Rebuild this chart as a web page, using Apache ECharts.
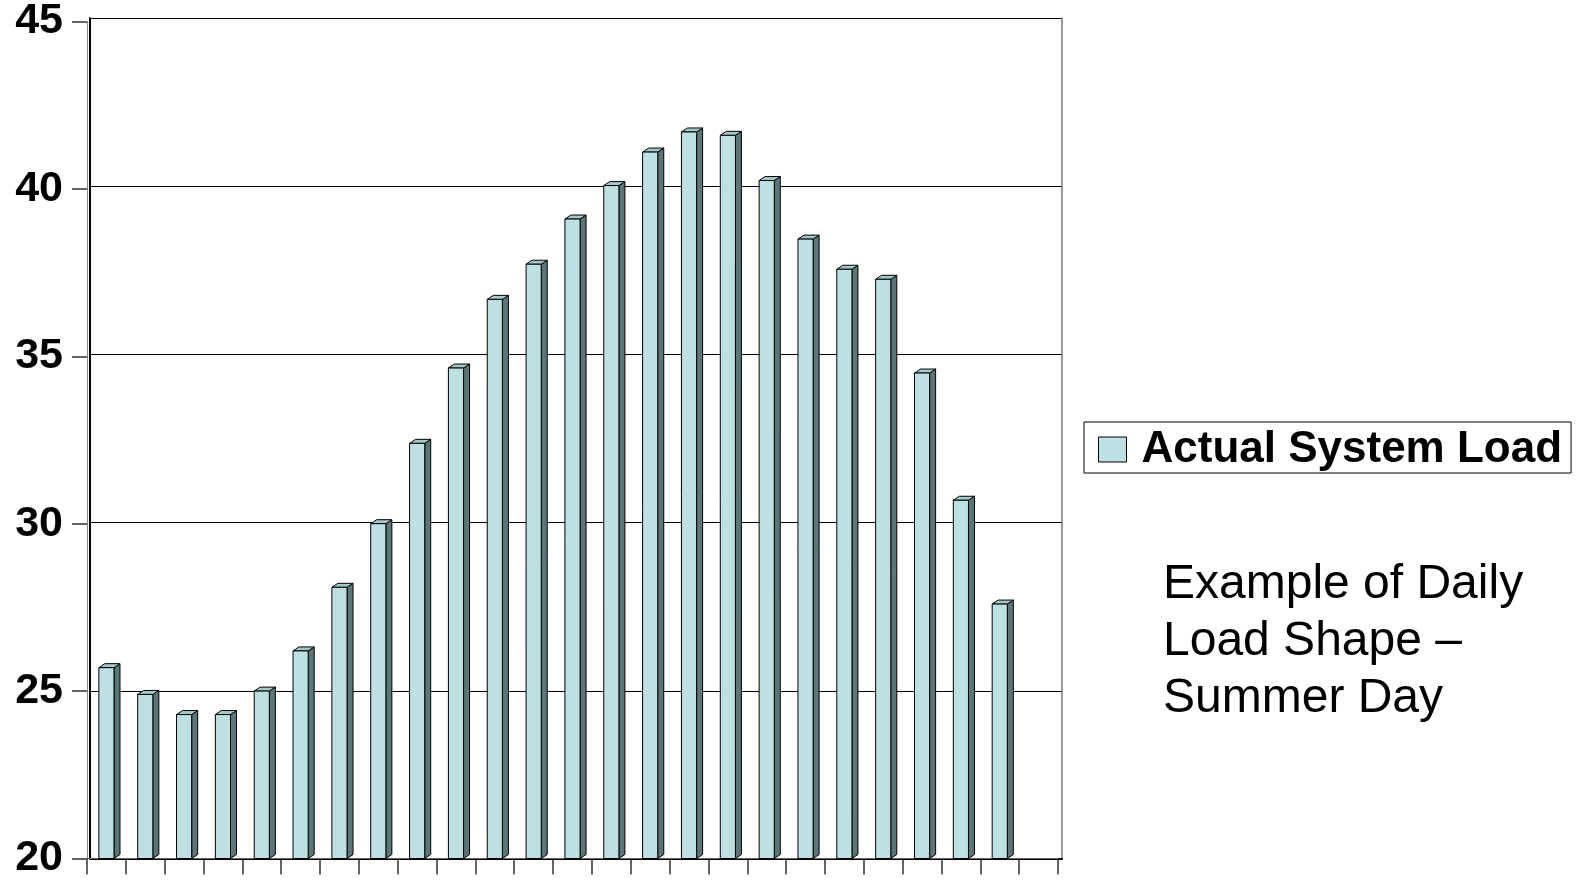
<!DOCTYPE html>
<html>
<head>
<meta charset="utf-8">
<script src="https://cdn.jsdelivr.net/npm/echarts@6/dist/echarts.min.js"></script>
<style>
html,body{margin:0;padding:0;background:#fff;}
#c{width:1583px;height:880px;}
</style>
</head>
<body>
<div id="c"></div>
<script>
const hours = ['1','2','3','4','5','6','7','8','9','10','11','12','13','14','15','16','17','18','19','20','21','22','23','24','25'];
const loadValues = [25.7, 24.9, 24.3, 24.3, 25.0, 26.2, 28.1, 30.0, 32.4, 34.65, 36.7, 37.75, 39.1, 40.1, 41.1, 41.7, 41.6, 40.25, 38.5, 37.6, 37.3, 34.5, 30.7, 27.6];
const yTicks = [20, 25, 30, 35, 40, 45];
const seriesName = 'Actual System Load';
const noteLines = ['Example of Daily', 'Load Shape \u2013', 'Summer Day'];

const FONT = '"Liberation Sans", Arial, sans-serif';
const FRONT = '#BDE0E3', SIDE = '#5B7676', TOP = '#A3C8CA';

const chart = echarts.init(document.getElementById('c'), null, {renderer: 'canvas'});

function renderBar(params, api) {
  const cat = api.value(0), val = api.value(1);
  const top = api.coord([cat, val]);
  const base = api.coord([cat, yTicks[0]]);
  const band = api.size([1, 0])[0];
  const w = band * 0.39, dx = 6, dy = 4;
  const l = top[0] - w / 2, r = top[0] + w / 2;
  const lineStyle = {stroke: '#000', lineWidth: 1};
  return {
    type: 'group',
    children: [
      {type: 'polygon', shape: {points: [[r, top[1]], [r + dx, top[1] - dy], [r + dx, base[1] - dy], [r, base[1]]]},
       style: Object.assign({fill: SIDE}, lineStyle)},
      {type: 'polygon', shape: {points: [[l, top[1]], [l + dx, top[1] - dy], [r + dx, top[1] - dy], [r, top[1]]]},
       style: Object.assign({fill: TOP}, lineStyle)},
      {type: 'rect', shape: {x: l, y: top[1], width: w, height: base[1] - top[1]},
       style: Object.assign({fill: FRONT}, lineStyle)}
    ]
  };
}

const option = {
  backgroundColor: '#fff',
  animation: false,
  grid: [
    {left: 90, right: 521, top: 18, bottom: 21},
    {left: 87, right: 525, top: 21, bottom: 18}
  ],
  xAxis: [
    {gridIndex: 0, type: 'category', data: hours, axisLine: {lineStyle: {color: '#000', width: 2}},
     axisTick: {show: false}, axisLabel: {show: false}},
    {gridIndex: 1, type: 'category', data: hours,
     axisLine: {lineStyle: {color: '#666', width: 1}},
     axisTick: {show: true, inside: false, length: 16, lineStyle: {color: '#333', width: 1.5}},
     axisLabel: {show: false}}
  ],
  yAxis: [
    {gridIndex: 0, type: 'value', min: 20, max: 45, interval: 5,
     axisLine: {show: true, lineStyle: {color: '#000', width: 2}},
     axisTick: {show: false}, axisLabel: {show: false},
     splitLine: {show: true, lineStyle: {color: '#000', width: 1.2}}},
    {gridIndex: 0, type: 'value', min: 20, max: 45, interval: 5, position: 'right',
     axisLine: {show: true, lineStyle: {color: '#777', width: 1.5}},
     axisTick: {show: false}, axisLabel: {show: false}, splitLine: {show: false}},
    {gridIndex: 1, type: 'value', min: 20, max: 45, interval: 5,
     axisLine: {show: true, lineStyle: {color: '#888', width: 1}},
     axisTick: {show: true, inside: false, length: 15, lineStyle: {color: '#333', width: 1.5}},
     axisLabel: {show: true, margin: 24, fontFamily: FONT, fontWeight: 'bold', fontSize: 43, color: '#000',
                 formatter: v => yTicks.indexOf(v) >= 0 ? String(v) : ''},
     splitLine: {show: false}}
  ],
  legend: {
    show: true,
    left: 1084, top: 422,
    orient: 'horizontal',
    borderColor: '#000', borderWidth: 1,
    padding: [4, 9, 0, 14],
    itemWidth: 28, itemHeight: 25,
    textStyle: {fontFamily: FONT, fontWeight: 'bold', fontSize: 44, color: '#000', lineHeight: 40, padding: [7, 0, 0, 10]},
    data: [{name: seriesName, icon: 'rect', itemStyle: {color: FRONT, borderColor: '#000', borderWidth: 1}}]
  },
  graphic: [{
    type: 'text', left: 1163, top: 556,
    style: {text: noteLines.join('\n'), font: '48px ' + FONT, fill: '#000', lineHeight: 57}
  }],
  series: [{
    name: seriesName,
    type: 'custom',
    xAxisIndex: 1, yAxisIndex: 2,
    itemStyle: {color: FRONT, borderColor: '#000', borderWidth: 1},
    renderItem: renderBar,
    encode: {x: 0, y: 1},
    data: loadValues.map((v, i) => [i, v])
  }]
};
chart.setOption(option);
</script>
</body>
</html>
